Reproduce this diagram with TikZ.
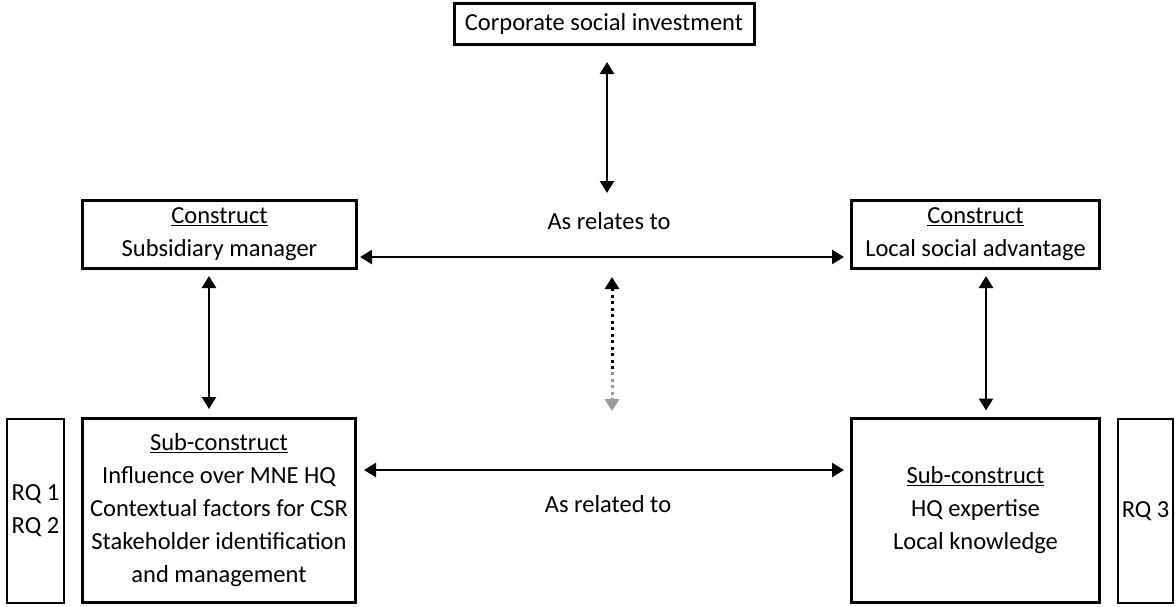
\documentclass[tikz,border=0pt]{standalone}
\usepackage{fontspec}
\setmainfont{Carlito}
\usetikzlibrary{arrows.meta}
\begin{document}
\begin{tikzpicture}[x=1pt,y=-1pt,
  every node/.style={font=\fontsize{24.5}{33}\selectfont},
  thickbox/.style={draw,line width=3pt,align=center,inner sep=0pt},
  thinbox/.style={draw,line width=1.3pt,align=center,inner sep=0pt},
  tip/.style={Triangle[width=14pt,length=12pt]},
  dbl/.style={line width=2.4pt,{Triangle[width=14pt,length=12pt]}-{Triangle[width=14pt,length=12pt]}},
  lbl/.style={inner sep=0pt}]
\useasboundingbox (0,0) rectangle (1176,606);
% boxes
\node[thickbox,minimum width=300pt,minimum height=41pt] (csi) at (604,24) {Corporate social investment};
\node[thickbox,minimum width=274pt,minimum height=68pt] (sm) at (219.5,234.5) {\underline{Construct}\\Subsidiary manager};
\node[thickbox,minimum width=248pt,minimum height=68pt] (lsa) at (975.5,234.5) {\underline{Construct}\\Local social advantage};
\node[thickbox,minimum width=273pt,minimum height=184pt] (scl) at (219,510.5) {\underline{Sub-construct}\\Influence over MNE HQ\\Contextual factors for CSR\\Stakeholder identification\\and management};
\node[thickbox,minimum width=248pt,minimum height=184pt] (scr) at (975.5,510) {\underline{Sub-construct}\\HQ expertise\\Local knowledge};
\node[thinbox,minimum width=57pt,minimum height=184pt] (rq12) at (35.5,511) {RQ 1\\RQ 2};
\node[thinbox,minimum width=55pt,minimum height=184pt] (rq3) at (1145.5,511) {RQ 3};
% labels
\node[lbl] (rel1) at (609,221) {As relates to};
\node[lbl] (rel2) at (608,504) {As related to};
% connectors
\coordinate (ta) at (607,62);
\coordinate (tb) at (607,193);
\draw[dbl] (ta) -- (tb);
\draw[dbl] ([xshift=2pt]sm.east |- 0,257) -- ([xshift=-6pt]lsa.west |- 0,257);
\draw[dbl] ([yshift=-6pt]sm.south -| 209,0) -- ([yshift=8pt]scl.north -| 209,0);
\draw[dbl] ([yshift=-6pt]lsa.south -| 986,0) -- ([yshift=6pt]scr.north -| 986,0);
\draw[dbl] ([xshift=7pt]scl.east |- 0,470) -- ([xshift=-6pt]scr.west |- 0,470);
\coordinate (da) at (612,277);
\coordinate (dm) at (612,372);
\coordinate (db) at (612,411);
\draw[line width=3pt,dash pattern=on 3pt off 3.5pt,{Triangle[width=14pt,length=12pt]}-] (da) -- (dm);
\draw[line width=3pt,dash pattern=on 3pt off 3.5pt,gray!80,-{Triangle[width=14pt,length=12pt]}] (dm) -- (db);
\end{tikzpicture}
\end{document}
